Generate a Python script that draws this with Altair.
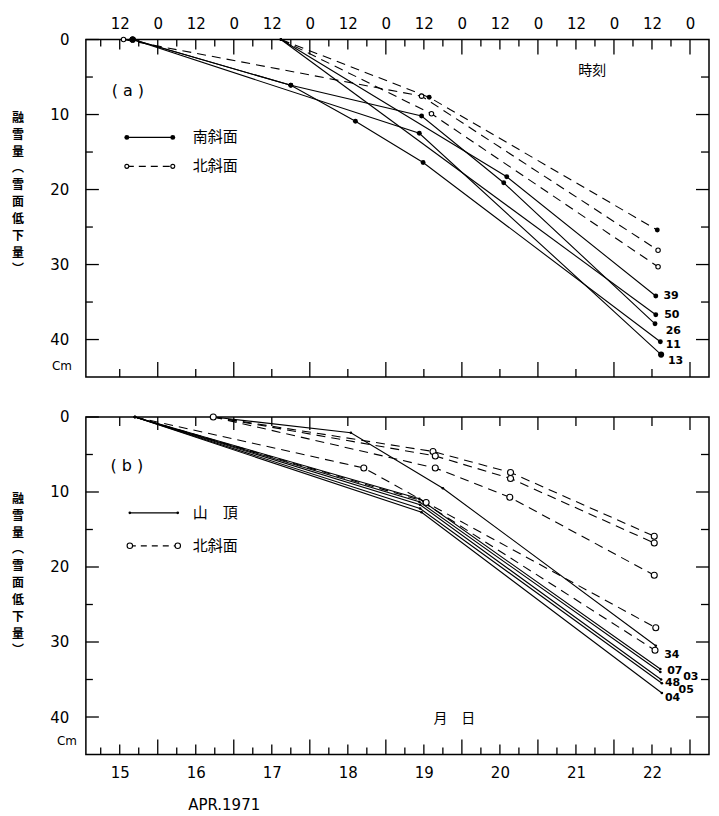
import altair as alt
import pandas as pd

# ======================= DATA =======================
# time axis: day of April 1971 (fractional), depth: snow melt (cm)

# ---- panel (a) : 南斜面 (solid) ----
a_s11_t = [15.67, 17.75, 18.60, 19.49, 22.61]
a_s11_cm = [0.0, 6.1, 10.9, 16.4, 40.3]
a_s13_t = [15.67, 19.44, 22.62]
a_s13_cm = [0.0, 12.5, 42.0]
a_s26_t = [15.67, 17.75, 19.47, 20.55, 22.54]
a_s26_cm = [0.0, 6.1, 10.2, 19.1, 37.9]
a_s39_t = [17.62, 20.59, 22.55]
a_s39_cm = [0.0, 18.3, 34.2]
a_s50_t = [17.62, 22.55]
a_s50_cm = [0.0, 36.7]
# ---- panel (a) : 北斜面 (dashed) ----
a_n1_t = [17.62, 19.57, 22.57]
a_n1_cm = [0.0, 7.7, 25.4]
a_n2_t = [15.55, 19.47, 22.58]
a_n2_cm = [0.0, 7.55, 28.1]
a_n3_t = [17.62, 19.60, 22.58]
a_n3_cm = [0.0, 9.9, 30.3]

a_labels = ["39", "50", "26", "11", "13"]
a_label_t = [22.65, 22.66, 22.68, 22.68, 22.71]
a_label_cm = [34.2, 36.7, 38.8, 40.7, 42.8]

# ---- panel (b) : 山頂 (solid) ----
b_s34_t = [16.73, 18.54, 19.75, 22.55]
b_s34_cm = [0.0, 2.1, 9.5, 30.5]
b_s07_t = [15.70, 19.44, 22.61]
b_s07_cm = [0.0, 10.9, 33.6]
b_s03_t = [15.70, 19.44, 22.61]
b_s03_cm = [0.0, 11.3, 34.0]
b_s48_t = [15.70, 19.45, 22.62]
b_s48_cm = [0.0, 11.7, 35.0]
b_s05_t = [15.70, 19.45, 22.63]
b_s05_cm = [0.0, 12.2, 35.5]
b_s04_t = [15.70, 19.47, 22.63]
b_s04_cm = [0.0, 12.7, 36.8]
# ---- panel (b) : 北斜面 (dashed) ----
b_n1_t = [16.73, 19.62, 20.64, 22.53]
b_n1_cm = [0.0, 4.6, 7.4, 15.9]
b_n2_t = [16.73, 19.65, 20.64, 22.53]
b_n2_cm = [0.0, 5.2, 8.2, 16.8]
b_n3_t = [16.73, 19.65, 20.63, 22.53]
b_n3_cm = [0.0, 6.8, 10.7, 21.1]
b_n4_t = [15.70, 18.71, 19.53, 22.55]
b_n4_cm = [0.0, 6.8, 11.4, 28.1]
b_n5_t = [15.70, 19.45, 22.54]
b_n5_cm = [0.0, 11.1, 31.1]

b_labels = ["34", "07", "03", "48", "05", "04"]
b_label_t = [22.66, 22.70, 22.91, 22.67, 22.85, 22.67]
b_label_cm = [31.7, 33.8, 34.6, 35.5, 36.4, 37.4]

day_labels = [15, 16, 17, 18, 19, 20, 21, 22]
hour_label_t = [15.5 + 0.5 * i for i in range(16)]
y_labels = [0, 10, 20, 30, 40]

ytitle_chars = ["融", "雪", "量", "︵", "雪", "面", "低", "下", "量", "︶"]

# ======================= STYLE =======================
NUM_FONT = "DejaVu Sans"
JP_FONT = "Noto Sans CJK JP"
X_DOM = [15.055, 23.25]
Y_DOM = [0, 45]
W, H = 624, 338
DASH = [9, 6]
YTITLE_OFFSETS = [0, 17, 34, 50, 67, 84, 101, 118, 135, 151]


def rows(name, style, ts, cms, mks):
    return [dict(series=name, style=style, ord=i, t=t, cm=c, mk=m)
            for i, (t, c, m) in enumerate(zip(ts, cms, mks))]


a_rows = (
    rows("s11", "solid", a_s11_t, a_s11_cm, ["big", "fill", "fill", "fill", "fill"])
    + rows("s13", "solid", a_s13_t, a_s13_cm, ["big", "fill", "big"])
    + rows("s26", "solid", a_s26_t, a_s26_cm, ["big", "fill", "fill", "fill", "fill"])
    + rows("s39", "solid", a_s39_t, a_s39_cm, ["dot", "fill", "fill"])
    + rows("s50", "solid", a_s50_t, a_s50_cm, ["dot", "fill"])
    + rows("n1", "dash", a_n1_t, a_n1_cm, ["dot", "fill", "fill"])
    + rows("n2", "dash", a_n2_t, a_n2_cm, ["open", "open", "open"])
    + rows("n3", "dash", a_n3_t, a_n3_cm, ["dot", "open", "open"])
)
b_rows = (
    rows("s34", "solid", b_s34_t, b_s34_cm, ["none", "dot", "dot", "dot"])
    + rows("s07", "solid", b_s07_t, b_s07_cm, ["dot", "dot", "dot"])
    + rows("s03", "solid", b_s03_t, b_s03_cm, ["dot", "dot", "dot"])
    + rows("s48", "solid", b_s48_t, b_s48_cm, ["dot", "dot", "dot"])
    + rows("s05", "solid", b_s05_t, b_s05_cm, ["dot", "dot", "dot"])
    + rows("s04", "solid", b_s04_t, b_s04_cm, ["dot", "dot", "dot"])
    + rows("n1", "dash", b_n1_t, b_n1_cm, ["open", "open", "open", "open"])
    + rows("n2", "dash", b_n2_t, b_n2_cm, ["none", "open", "open", "open"])
    + rows("n3", "dash", b_n3_t, b_n3_cm, ["none", "open", "open", "open"])
    + rows("n4", "dash", b_n4_t, b_n4_cm, ["dot", "open", "open", "open"])
    + rows("n5", "dash", b_n5_t, b_n5_cm, ["none", "none", "open"])
)
dfa = pd.DataFrame(a_rows)
dfb = pd.DataFrame(b_rows)
lab_a = pd.DataFrame({"t": a_label_t, "cm": a_label_cm, "lab": a_labels})
lab_b = pd.DataFrame({"t": b_label_t, "cm": b_label_cm, "lab": b_labels})

yaxis = alt.Axis(values=y_labels, ticks=False, domain=False, grid=False,
                 labelPadding=17, labelFontSize=15, labelFont=NUM_FONT,
                 labelColor="black", title=None)
axis_a = alt.Axis(orient="top", values=hour_label_t,
                  labelExpr="datum.value % 1 == 0 ? '0' : '12'",
                  ticks=False, domain=False, grid=False, labelPadding=8,
                  labelFontSize=15, labelFont=NUM_FONT, labelColor="black",
                  title=None)
axis_b = alt.Axis(orient="bottom", values=[d + 0.5 for d in day_labels],
                  labelExpr="'' + floor(datum.value)",
                  ticks=False, domain=False, grid=False, labelPadding=11,
                  labelFontSize=15, labelFont=NUM_FONT, labelColor="black",
                  title="APR.1971", titleFont=NUM_FONT, titleFontSize=15,
                  titleFontWeight="normal", titleColor="black",
                  titleX=138, titleY=50, titleAlign="center",
                  titleBaseline="middle")


def X(axis):
    return alt.X("t:Q", scale=alt.Scale(domain=X_DOM, nice=False, zero=False), axis=axis)


def Y():
    return alt.Y("cm:Q", scale=alt.Scale(domain=Y_DOM, reverse=True, nice=False, zero=False), axis=yaxis)


def one():
    return pd.DataFrame({"k": [0]})


def ticks_x(ts, length, top, axis):
    df = pd.DataFrame({"t": ts})
    if top:
        y, y2 = 0, length
    else:
        y, y2 = H, H - length
    return alt.Chart(df).mark_rule(color="black", strokeWidth=1.3).encode(
        x=X(axis), y=alt.value(y), y2=alt.value(y2))


def ticks_y(vals, length, left):
    df = pd.DataFrame({"cm": vals})
    if left:
        x, x2 = 0, length
    else:
        x, x2 = W, W - length
    return alt.Chart(df).mark_rule(color="black", strokeWidth=1.3).encode(
        y=Y(), x=alt.value(x), x2=alt.value(x2))


def quarter(kind):
    out = []
    t = 15.25
    while t < X_DOM[1] - 0.01:
        frac = round(t % 1, 2)
        if kind == "int" and frac == 0:
            out.append(t)
        elif kind == "half" and frac == 0.5:
            out.append(t)
        elif kind == "q" and frac in (0.25, 0.75):
            out.append(t)
        t += 0.25
    return out


def data_layers(df, labdf, axis, open_size, fill_size):
    lines_s = alt.Chart(df[df["style"] == "solid"]).mark_line(
        color="black", strokeWidth=1.1).encode(
        x=X(axis), y=Y(), detail="series:N", order="ord:Q")
    lines_d = alt.Chart(df[df["style"] == "dash"]).mark_line(
        color="black", strokeWidth=1.1, strokeDash=DASH).encode(
        x=X(axis), y=Y(), detail="series:N", order="ord:Q")
    p_fill = alt.Chart(df[df["mk"] == "fill"]).mark_point(
        shape="circle", filled=True, color="black", size=fill_size, opacity=1).encode(x=X(axis), y=Y())
    p_big = alt.Chart(df[df["mk"] == "big"]).mark_point(
        shape="circle", filled=True, color="black", size=38, opacity=1).encode(x=X(axis), y=Y())
    p_dot = alt.Chart(df[df["mk"] == "dot"]).mark_point(
        shape="circle", filled=True, color="black", size=7, opacity=1).encode(x=X(axis), y=Y())
    p_open = alt.Chart(df[df["mk"] == "open"]).mark_point(
        shape="circle", fill="white", stroke="black", strokeWidth=1.1,
        size=open_size, opacity=1, fillOpacity=1).encode(x=X(axis), y=Y())
    labs = alt.Chart(labdf).mark_text(
        align="left", baseline="middle", fontSize=11, fontWeight="bold",
        font=NUM_FONT, color="black").encode(x=X(axis), y=Y(), text="lab:N")
    return [lines_s, lines_d, p_fill, p_big, p_dot, p_open, labs]


def text_px(txt, x, y, size=14, font=JP_FONT, weight="normal", align="center"):
    return alt.Chart(one()).mark_text(
        text=txt, fontSize=size, font=font, fontWeight=weight,
        align=align, baseline="middle", color="black").encode(
        x=alt.value(x), y=alt.value(y))


def vertical_title(x, y0):
    return [text_px(ch, x, y0 + off, size=12, weight="bold")
            for ch, off in zip(ytitle_chars, YTITLE_OFFSETS)]


def rule_px(x1, x2, y, dash=None):
    kw = dict(color="black", strokeWidth=1.2)
    if dash is not None:
        kw["strokeDash"] = dash
    return alt.Chart(one()).mark_rule(**kw).encode(
        x=alt.value(x1), x2=alt.value(x2), y=alt.value(y))


def pt_px(x, y, kind, size):
    if kind == "open":
        m = alt.Chart(one()).mark_point(shape="circle", fill="white", stroke="black",
                                        strokeWidth=1.1, size=size, opacity=1, fillOpacity=1)
    else:
        m = alt.Chart(one()).mark_point(shape="circle", filled=True, color="black",
                                        size=size, opacity=1)
    return m.encode(x=alt.value(x), y=alt.value(y))


# ---------------- panel (a) ----------------
layers_a = []
layers_a += [ticks_x(quarter("int"), 15, True, axis_a),
             ticks_x(quarter("half"), 10, True, axis_a),
             ticks_x(quarter("q"), 7, True, axis_a),
             ticks_x(quarter("int"), 15, False, axis_a),
             ticks_x(quarter("half"), 8, False, axis_a)]
layers_a += [ticks_y([0, 10, 20, 30, 40], 13, True),
             ticks_y([5, 15, 25, 35], 7, True),
             ticks_y([10, 20, 30, 40], 13, False),
             ticks_y([5, 15, 25, 35], 8, False)]
layers_a += data_layers(dfa, lab_a, axis_a, open_size=20, fill_size=24)
layers_a += [
    text_px("( a )", 42, 52, size=16, font=NUM_FONT),
    text_px("時刻", 507, 32, size=14),
    rule_px(41, 87, 98), pt_px(41, 98, "fill", 24), pt_px(87, 98, "fill", 24),
    text_px("南斜面", 107, 98, size=15, align="left"),
    rule_px(41, 87, 127, dash=[7, 5]), pt_px(41, 127, "open", 16), pt_px(87, 127, "open", 16),
    text_px("北斜面", 107, 127, size=15, align="left"),
    text_px("Cm", -24, 327, size=12, font=NUM_FONT),
]
layers_a += vertical_title(-68, 79)
panel_a = alt.layer(*layers_a).properties(width=W, height=H)

# ---------------- panel (b) ----------------
layers_b = []
layers_b += [ticks_x(quarter("int"), 13, True, axis_b),
             ticks_x(quarter("half"), 9, True, axis_b),
             ticks_x(quarter("int"), 15, False, axis_b),
             ticks_x(quarter("half"), 10, False, axis_b),
             ticks_x(quarter("q"), 7, False, axis_b)]
layers_b += [ticks_y([0, 10, 20, 30, 40], 13, True),
             ticks_y([5, 15, 25, 35], 7, True),
             ticks_y([10, 20, 30, 40], 13, False),
             ticks_y([5, 15, 25, 35], 8, False)]
layers_b += data_layers(dfb, lab_b, axis_b, open_size=36, fill_size=24)
layers_b += [
    text_px("( b )", 41, 49, size=16, font=NUM_FONT),
    text_px("月　日", 369, 302, size=14),
    rule_px(44, 92, 96), pt_px(44, 96, "dot", 7), pt_px(92, 96, "dot", 7),
    text_px("山　頂", 107, 96, size=15, align="left"),
    rule_px(44, 92, 129, dash=[6, 5]), pt_px(44, 129, "open", 30), pt_px(92, 129, "open", 30),
    text_px("北斜面", 107, 129, size=15, align="left"),
    text_px("Cm", -19, 324, size=12, font=NUM_FONT),
]
layers_b += vertical_title(-68, 82)
panel_b = alt.layer(*layers_b).properties(width=W, height=H)

chart = (
    alt.vconcat(panel_a, panel_b, spacing=30)
    .properties(padding={"left": 3, "top": 7, "right": 0, "bottom": 0}, background="white")
    .configure_view(stroke="black", strokeWidth=1.5)
)

chart.save("out.html", embed_options={"renderer": "svg", "actions": False})
